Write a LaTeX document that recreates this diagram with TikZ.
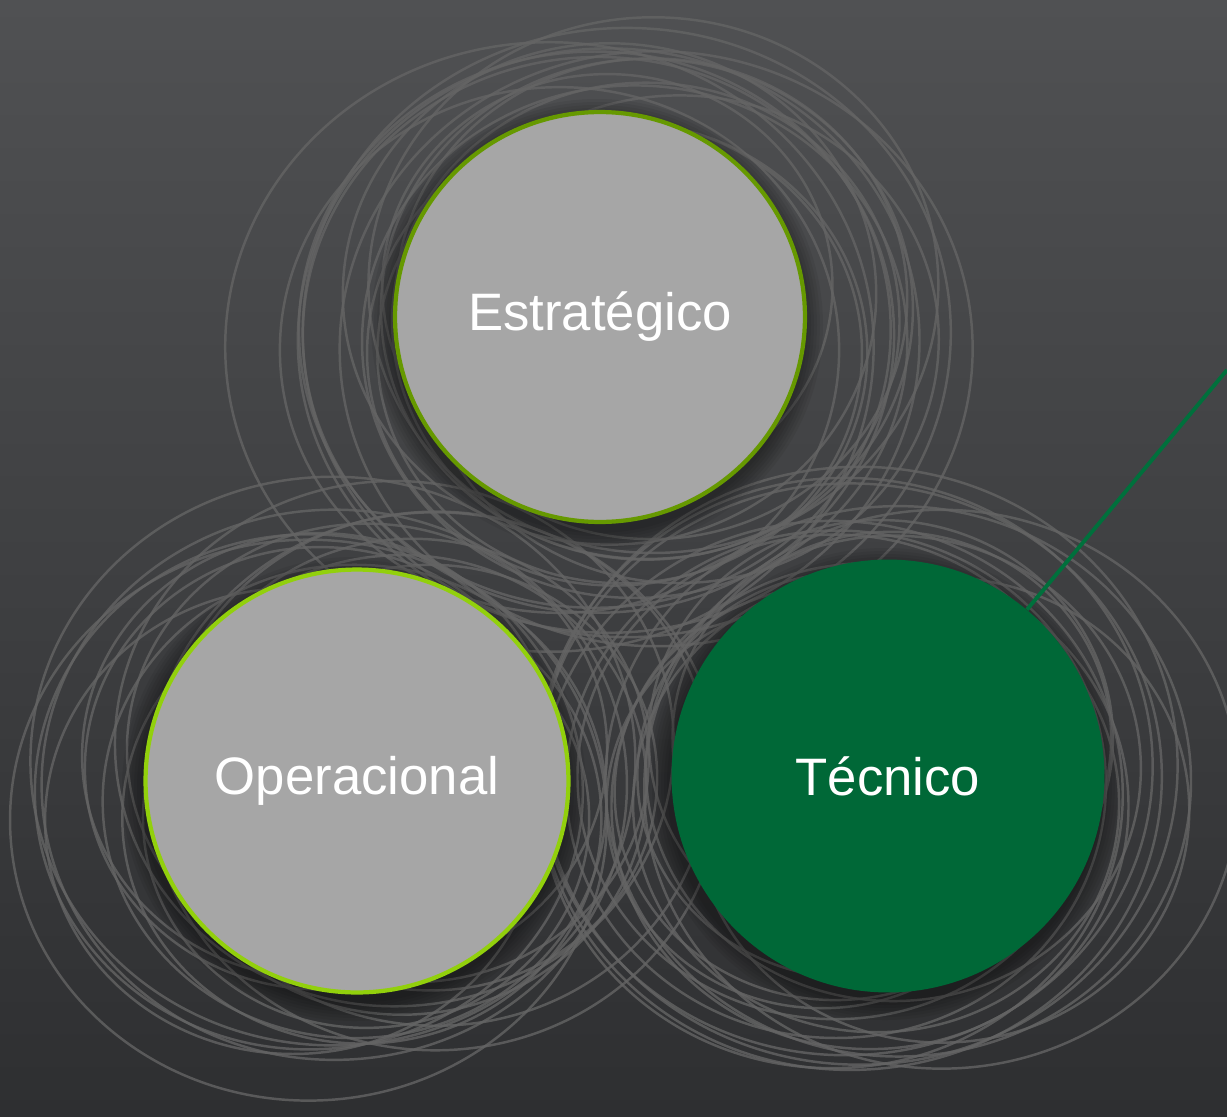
\documentclass[tikz,border=0pt]{standalone}
\usepackage{fontspec}
\setmainfont{Liberation Sans}
\usepackage{tikz}
\usetikzlibrary{positioning,calc}
\definecolor{bgtop}{HTML}{505153}
\definecolor{bgbot}{HTML}{2E2F31}
\definecolor{ringgray}{HTML}{646464}
\definecolor{olivegreen}{HTML}{669900}
\definecolor{limegreen}{HTML}{92D00C}
\definecolor{tecgreen}{HTML}{006837}
\definecolor{linegreen}{HTML}{00703C}
\definecolor{discgray}{HTML}{A6A6A6}

\begin{document}
\begin{tikzpicture}[x=0.02cm,y=-0.02cm,
    ring/.style={draw=ringgray,line width=1.4pt,opacity=0.8},
    halo/.style={fill=black,opacity=0.06},
    disc/.style={circle,inner sep=0pt,text=white,font=\fontsize{30}{36}\selectfont}]
    % Background
    \shade[top color=bgtop,bottom color=bgbot] (0,0) rectangle (1227,1116);
    \useasboundingbox (0,0) rectangle (1227,1116);
    \clip (0,0) rectangle (1227,1116);

    % Rings round each disc
    \pgfmathsetseed{41}
    \foreach \cx/\cy in {600/317,357/781,888/776}
      \foreach \i in {1,...,17}{
        \pgfmathsetmacro{\rx}{270+55*rand}
        \pgfmathsetmacro{\ox}{80*rand}
        \pgfmathsetmacro{\oy}{40*rand}
        \draw[ring] (\cx+\ox,\cy+\oy) ellipse [x radius=\rx, y radius=0.94*\rx];
      }

    % Shadows
    \foreach \cx/\cy/\r in {600/317/206,357/781/212,888/776/216}
      \foreach \k in {2,5,...,20}
        \fill[halo] (\cx-3,\cy+8) circle [radius=\r+\k];

    % Discs
    \node[disc,fill=discgray,draw=olivegreen,line width=2.4pt,minimum size=8.2cm] (estr) at (600,317) {Estratégico};
    \node[disc,fill=discgray,draw=limegreen,line width=2.4pt,minimum size=8.46cm] (oper) at (357,781) {Operacional};
    \node[disc,fill=tecgreen,minimum size=8.66cm] (tec) at (888,776) {Técnico};

    % Pointer
    \coordinate (edge) at (1227,370);
    \draw[linegreen,line width=2.2pt] (tec) -- (edge);
\end{tikzpicture}
\end{document}
